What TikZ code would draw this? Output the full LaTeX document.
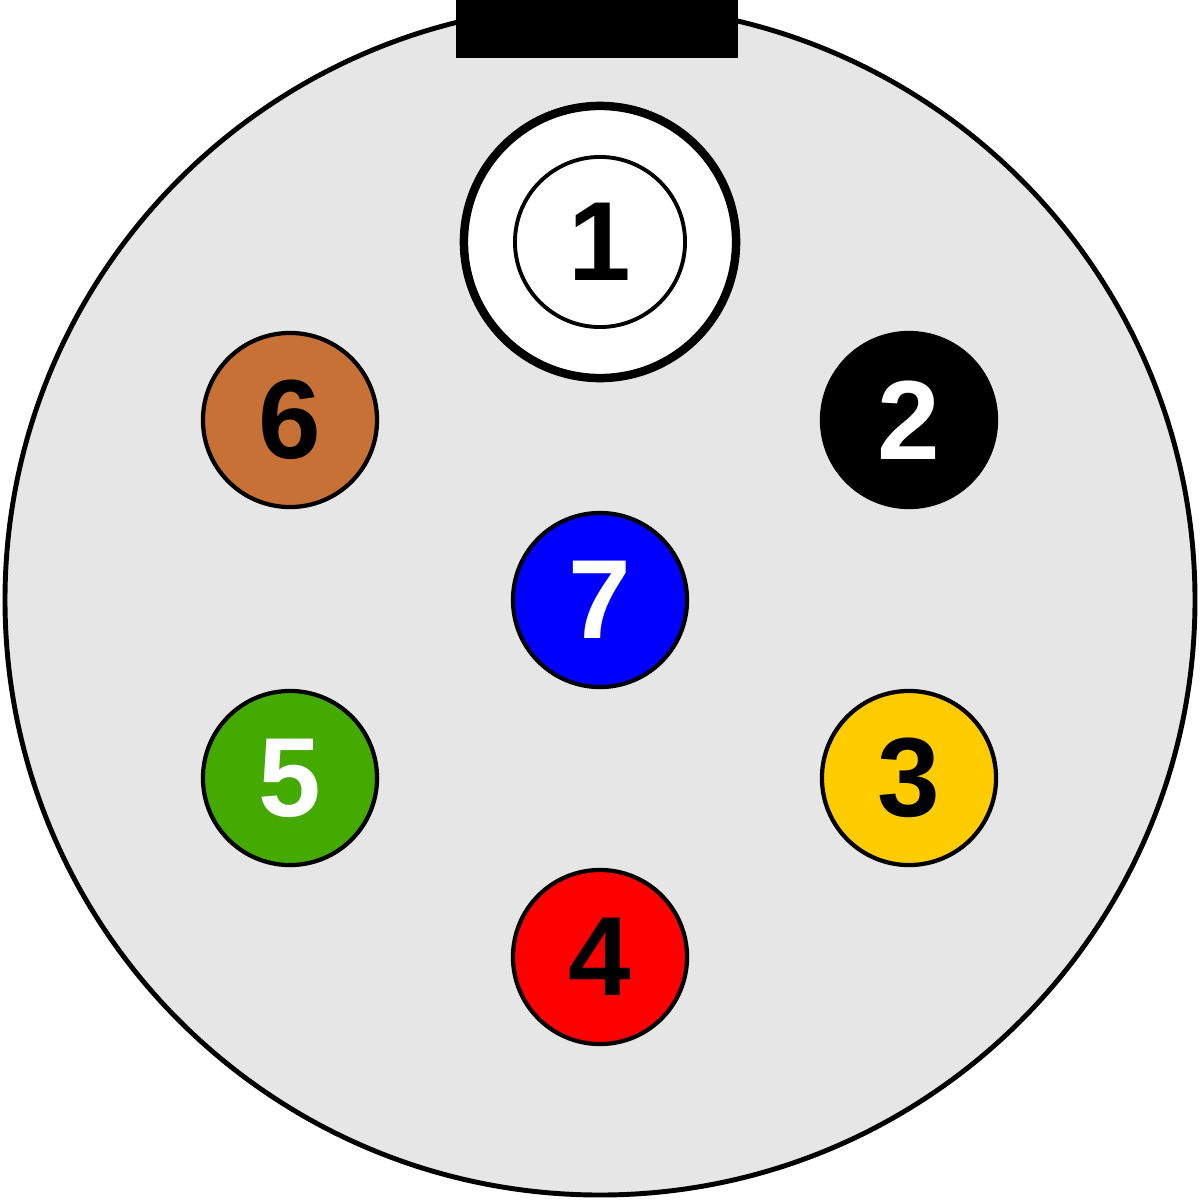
\documentclass[tikz,border=0pt]{standalone}
\usepackage{fontspec}
\setmainfont{Liberation Sans}
\definecolor{pbrown}{HTML}{C87137}
\definecolor{pgreen}{HTML}{44AA00}
\definecolor{pyellow}{HTML}{FFCC00}
\begin{document}
\begin{tikzpicture}[x=0.01cm,y=-0.01cm,
  pin/.style={circle,draw=black,line width=1.2pt,minimum size=1.74cm,inner sep=0pt,font=\fontsize{32}{32}\selectfont\bfseries}]
\useasboundingbox (0,0) rectangle (1200,1200);
\begin{scope}
\clip (0,0) rectangle (1200,1200);
\draw[fill={rgb,255:red,230;green,230;blue,230},line width=1.4pt] (600,600) circle (595);
\fill[black] (456,0) rectangle (738,58);
\end{scope}
\node[circle,draw=black,fill=white,line width=2.4pt,minimum size=2.72cm,inner sep=0pt] (p1o) at (600,242) {};
\node[pin,fill=white,line width=1.1pt,minimum size=1.7cm] (p1) at (600,242) {1};
\node[pin,fill=black,text=white] (p2) at (909,420) {2};
\node[pin,fill=pyellow] (p3) at (909,778) {3};
\node[pin,fill=red] (p4) at (600,957) {4};
\node[pin,fill=pgreen,text=white] (p5) at (290,778) {5};
\node[pin,fill=pbrown] (p6) at (290,420) {6};
\node[pin,fill=blue,text=white] (p7) at (600,600) {7};
\end{tikzpicture}
\end{document}
